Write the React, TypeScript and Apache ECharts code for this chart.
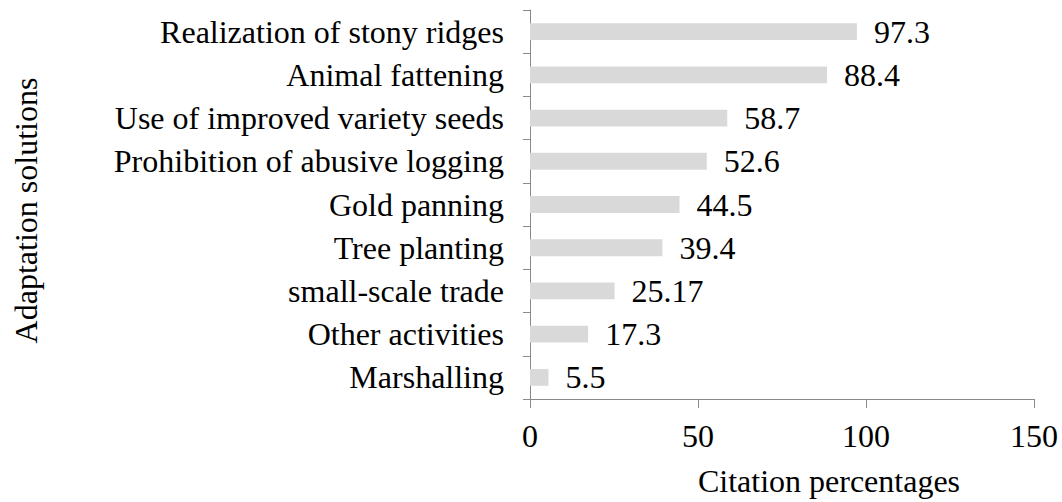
import React, { useEffect, useRef } from "react";
import * as echarts from "echarts";

const categories = [
  "Realization of stony ridges",
  "Animal fattening",
  "Use of improved variety seeds",
  "Prohibition of abusive logging",
  "Gold panning",
  "Tree planting",
  "small-scale trade",
  "Other activities",
  "Marshalling",
];
const values = [97.3, 88.4, 58.7, 52.6, 44.5, 39.4, 25.17, 17.3, 5.5];
const xTicks = [0, 50, 100, 150];
const xTitle = "Citation percentages";
const yTitle = "Adaptation solutions";

const FONT = "Liberation Serif";
const FS = 32;
const AXIS = "#898989";

export default function App() {
  const ref = useRef<HTMLDivElement>(null);
  useEffect(() => {
    const chart = echarts.init(ref.current!, undefined, { renderer: "svg" });
    chart.setOption({
      animation: false,
      backgroundColor: "#ffffff",
      textStyle: { fontFamily: FONT, color: "#000" },
      grid: { left: 530, right: 28, top: 10, bottom: 101, containLabel: false },
      xAxis: {
        type: "value",
        min: xTicks[0],
        max: xTicks[xTicks.length - 1],
        interval: xTicks[1] - xTicks[0],
        name: xTitle,
        nameLocation: "middle",
        nameGap: 66,
        nameTextStyle: { fontFamily: FONT, fontSize: FS, color: "#000", padding: [0, 0, 0, 94] },
        axisLine: { show: true, lineStyle: { color: AXIS, width: 1 } },
        axisTick: { show: true, length: 9, lineStyle: { color: AXIS } },
        axisLabel: { fontFamily: FONT, fontSize: FS, color: "#000", margin: 21 },
        splitLine: { show: false },
      },
      yAxis: {
        type: "category",
        data: categories,
        inverse: true,
        name: yTitle,
        nameLocation: "middle",
        nameGap: 488,
        nameRotate: 90,
        nameTextStyle: { fontFamily: FONT, fontSize: FS, color: "#000", padding: [0, 0, 0, -12] },
        axisLine: { show: true, lineStyle: { color: AXIS, width: 1 } },
        axisTick: { show: true, length: 7, lineStyle: { color: AXIS } },
        axisLabel: { fontFamily: FONT, fontSize: FS, color: "#000", margin: 26 },
      },
      series: [
        {
          type: "bar",
          data: values,
          barWidth: "39%",
          itemStyle: { color: "#d9d9d9" },
          label: {
            show: true,
            position: "right",
            distance: 17,
            fontFamily: FONT,
            fontSize: FS,
            color: "#000",
          },
        },
      ],
    });
    return () => chart.dispose();
  }, []);
  return <div ref={ref} style={{ width: 1062, height: 502, position: "absolute", left: 0, top: 0 }} />;
}
